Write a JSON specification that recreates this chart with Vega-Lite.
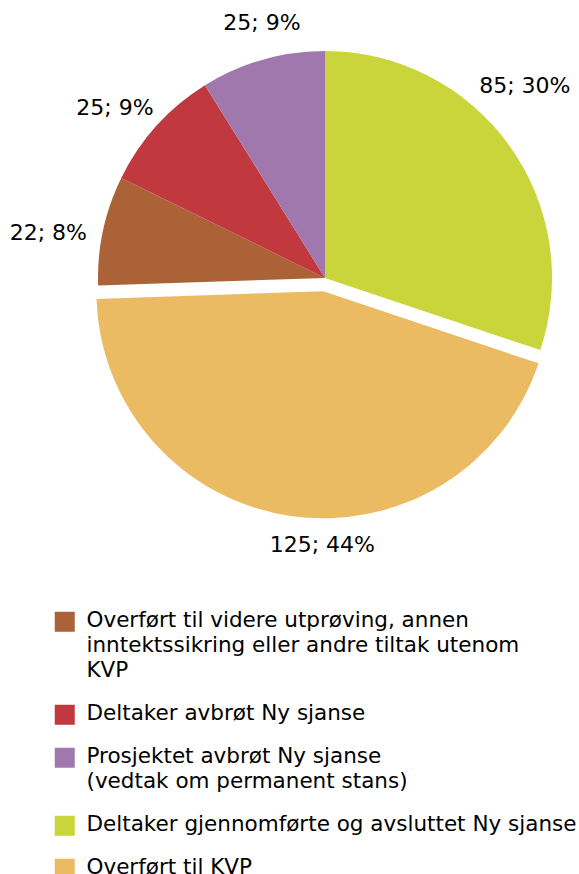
{
  "$schema": "https://vega.github.io/schema/vega-lite/v6.json",
  "width": 454,
  "height": 454,
  "autosize": {"type": "none"},
  "padding": {"left": 98, "top": 51, "right": 27, "bottom": 369},
  "background": "white",
  "config": {"view": {"stroke": null}, "font": "DejaVu Sans"},
  "data": {
    "values": [
      {"kategori": "Deltaker gjennomførte og avsluttet Ny sjanse", "antall": 85, "etikett": "85; 30%", "rekkefolge": 1},
      {"kategori": "Overført til KVP", "antall": 125, "etikett": "125; 44%", "rekkefolge": 2},
      {"kategori": "Overført til videre utprøving, annen inntektssikring eller andre tiltak utenom KVP", "antall": 22, "etikett": "22; 8%", "rekkefolge": 3},
      {"kategori": "Deltaker avbrøt Ny sjanse", "antall": 25, "etikett": "25; 9%", "rekkefolge": 4},
      {"kategori": "Prosjektet avbrøt Ny sjanse (vedtak om permanent stans)", "antall": 25, "etikett": "25; 9%", "rekkefolge": 5}
    ]
  },
  "encoding": {
    "theta": {"field": "antall", "type": "quantitative", "stack": true},
    "order": {"field": "rekkefolge", "type": "quantitative", "sort": "ascending"}
  },
  "layer": [
    {
      "mark": {"type": "arc"},
      "encoding": {
        "color": {
          "field": "kategori",
          "type": "nominal",
          "scale": {
            "domain": [
              "Overført til videre utprøving, annen inntektssikring eller andre tiltak utenom KVP",
              "Deltaker avbrøt Ny sjanse",
              "Prosjektet avbrøt Ny sjanse (vedtak om permanent stans)",
              "Deltaker gjennomførte og avsluttet Ny sjanse",
              "Overført til KVP"
            ],
            "range": ["#AA6236", "#C1393E", "#A078AE", "#CAD53B", "#EBBB64"]
          },
          "legend": {
            "orient": "none",
            "legendX": -44,
            "legendY": 560,
            "direction": "vertical",
            "title": null,
            "symbolType": "square",
            "symbolSize": 400,
            "symbolStrokeWidth": 0,
            "symbolOpacity": 1,
            "labelFont": "DejaVu Sans",
            "labelFontSize": 21.5,
            "labelColor": "#000000",
            "labelLimit": 700,
            "labelOffset": 11,
            "rowPadding": 20,
            "labelBaseline": "top",
            "labelExpr": "datum.label == 'Overført til videre utprøving, annen inntektssikring eller andre tiltak utenom KVP' ? ['Overført til videre utprøving, annen', 'inntektssikring eller andre tiltak utenom', 'KVP'] : datum.label == 'Prosjektet avbrøt Ny sjanse (vedtak om permanent stans)' ? ['Prosjektet avbrøt Ny sjanse', '(vedtak om permanent stans)'] : datum.label",
            "labelOverlap": false,
            "zindex": 1,
            "encode": {"labels": {"update": {"lineHeight": {"value": 25}, "dy": {"value": -12}}}}
          }
        },
        "fillOpacity": {"condition": {"test": "datum.kategori === 'Overført til KVP'", "value": 0}, "value": 1}
      }
    },
    {
      "mark": {"type": "arc", "xOffset": -1.7, "yOffset": 13.3},
      "encoding": {
        "color": {"field": "kategori", "type": "nominal"},
        "fillOpacity": {"condition": {"test": "datum.kategori === 'Overført til KVP'", "value": 1}, "value": 0}
      }
    },
    {
      "mark": {"type": "text", "radius": 240, "dx": 5, "dy": -52, "fontSize": 22, "font": "DejaVu Sans", "color": "#000000"},
      "encoding": {"text": {"condition": {"test": "datum.rekkefolge === 1", "field": "etikett"}, "value": ""}}
    },
    {
      "mark": {"type": "text", "radius": 240, "dx": 32, "dy": 30, "fontSize": 22, "font": "DejaVu Sans", "color": "#000000"},
      "encoding": {"text": {"condition": {"test": "datum.rekkefolge === 2", "field": "etikett"}, "value": ""}}
    },
    {
      "mark": {"type": "text", "radius": 240, "dx": -42, "dy": 5, "fontSize": 22, "font": "DejaVu Sans", "color": "#000000"},
      "encoding": {"text": {"condition": {"test": "datum.rekkefolge === 3", "field": "etikett"}, "value": ""}}
    },
    {
      "mark": {"type": "text", "radius": 240, "dx": -32, "dy": -9, "fontSize": 22, "font": "DejaVu Sans", "color": "#000000"},
      "encoding": {"text": {"condition": {"test": "datum.rekkefolge === 4", "field": "etikett"}, "value": ""}}
    },
    {
      "mark": {"type": "text", "radius": 240, "dx": 3, "dy": -24, "fontSize": 22, "font": "DejaVu Sans", "color": "#000000"},
      "encoding": {"text": {"condition": {"test": "datum.rekkefolge === 5", "field": "etikett"}, "value": ""}}
    }
  ]
}
